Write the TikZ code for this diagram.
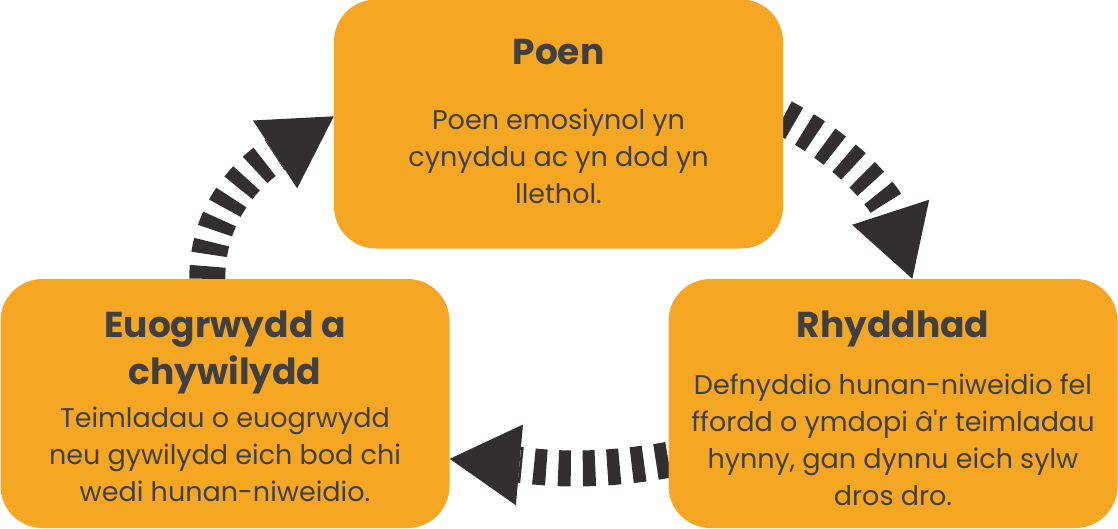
\documentclass[tikz,border=0pt]{standalone}
\usepackage{fontspec}
\setmainfont{Poppins}[Ligatures=TeXOff]
\usetikzlibrary{arrows.meta}
\definecolor{boxorange}{HTML}{F5A623}
\definecolor{textgrey}{HTML}{404040}
\definecolor{arrowdark}{HTML}{332E30}
\pgfdeclarelayer{background}
\pgfsetlayers{background,main}

\begin{document}
\begin{tikzpicture}[x=1pt,y=1pt,
	box/.style={shape=rectangle,fill=boxorange,rounded corners=42pt,minimum width=449pt,minimum height=249pt,inner sep=0pt},
	title/.style={text=textgrey,font=\fontsize{36}{47}\selectfont\bfseries,align=center,anchor=base,inner sep=0pt},
	body/.style={text=textgrey,font=\fontsize{27}{37}\selectfont,align=center,anchor=base,inner sep=0pt},
	cycle/.style={draw=arrowdark,line width=36pt,dash pattern=on 12.5pt off 12pt,-{Triangle[length=70pt,width=81pt,line width=0pt]}}]
	\useasboundingbox (0,0) rectangle (1118,-528);
	
	\node[box] (poen) at (558.5,-124) {};
	\node[box] (euog) at (225,-403.5) {};
	\node[box] (rhydd) at (893,-403.5) {};
	
	% base of a node with several lines = its last line
	\node[title] (poen-t) at ([yshift=-65pt]poen.north) {Poen};
	\node[body] (poen-b) at ([yshift=-204pt]poen.north) {Poen emosiynol yn\\cynyddu ac yn dod yn\\llethol.};
	\node[title] (euog-t) at ([yshift=-106pt]euog.north) {Euogrwydd a\\chywilydd};
	\node[body] (euog-b) at ([yshift=-223pt]euog.north) {Teimladau o euogrwydd\\neu gywilydd eich bod chi\\wedi hunan-niweidio.};
	\node[title] (rhydd-t) at ([yshift=-59pt]rhydd.north) {Rhyddhad};
	\node[body] (rhydd-b) at ([yshift=-227pt]rhydd.north) {Defnyddio hunan-niweidio fel\\ffordd o ymdopi â'r teimladau\\hynny, gan dynnu eich sylw\\dros dro.};
	
	\begin{pgfonlayer}{background}
	\path[cycle] ([xshift=207pt]euog.north west) to[out=90,in=213] ([yshift=-117pt]poen.north west);
	\path[cycle] ([yshift=-118pt]poen.north east) to[out=-28,in=108] ([xshift=244pt]rhydd.north west);
	\path[cycle] ([yshift=-181pt]rhydd.north west) to[out=190,in=-5] ([yshift=-180pt]euog.north east);
	\end{pgfonlayer}
\end{tikzpicture}
\end{document}
